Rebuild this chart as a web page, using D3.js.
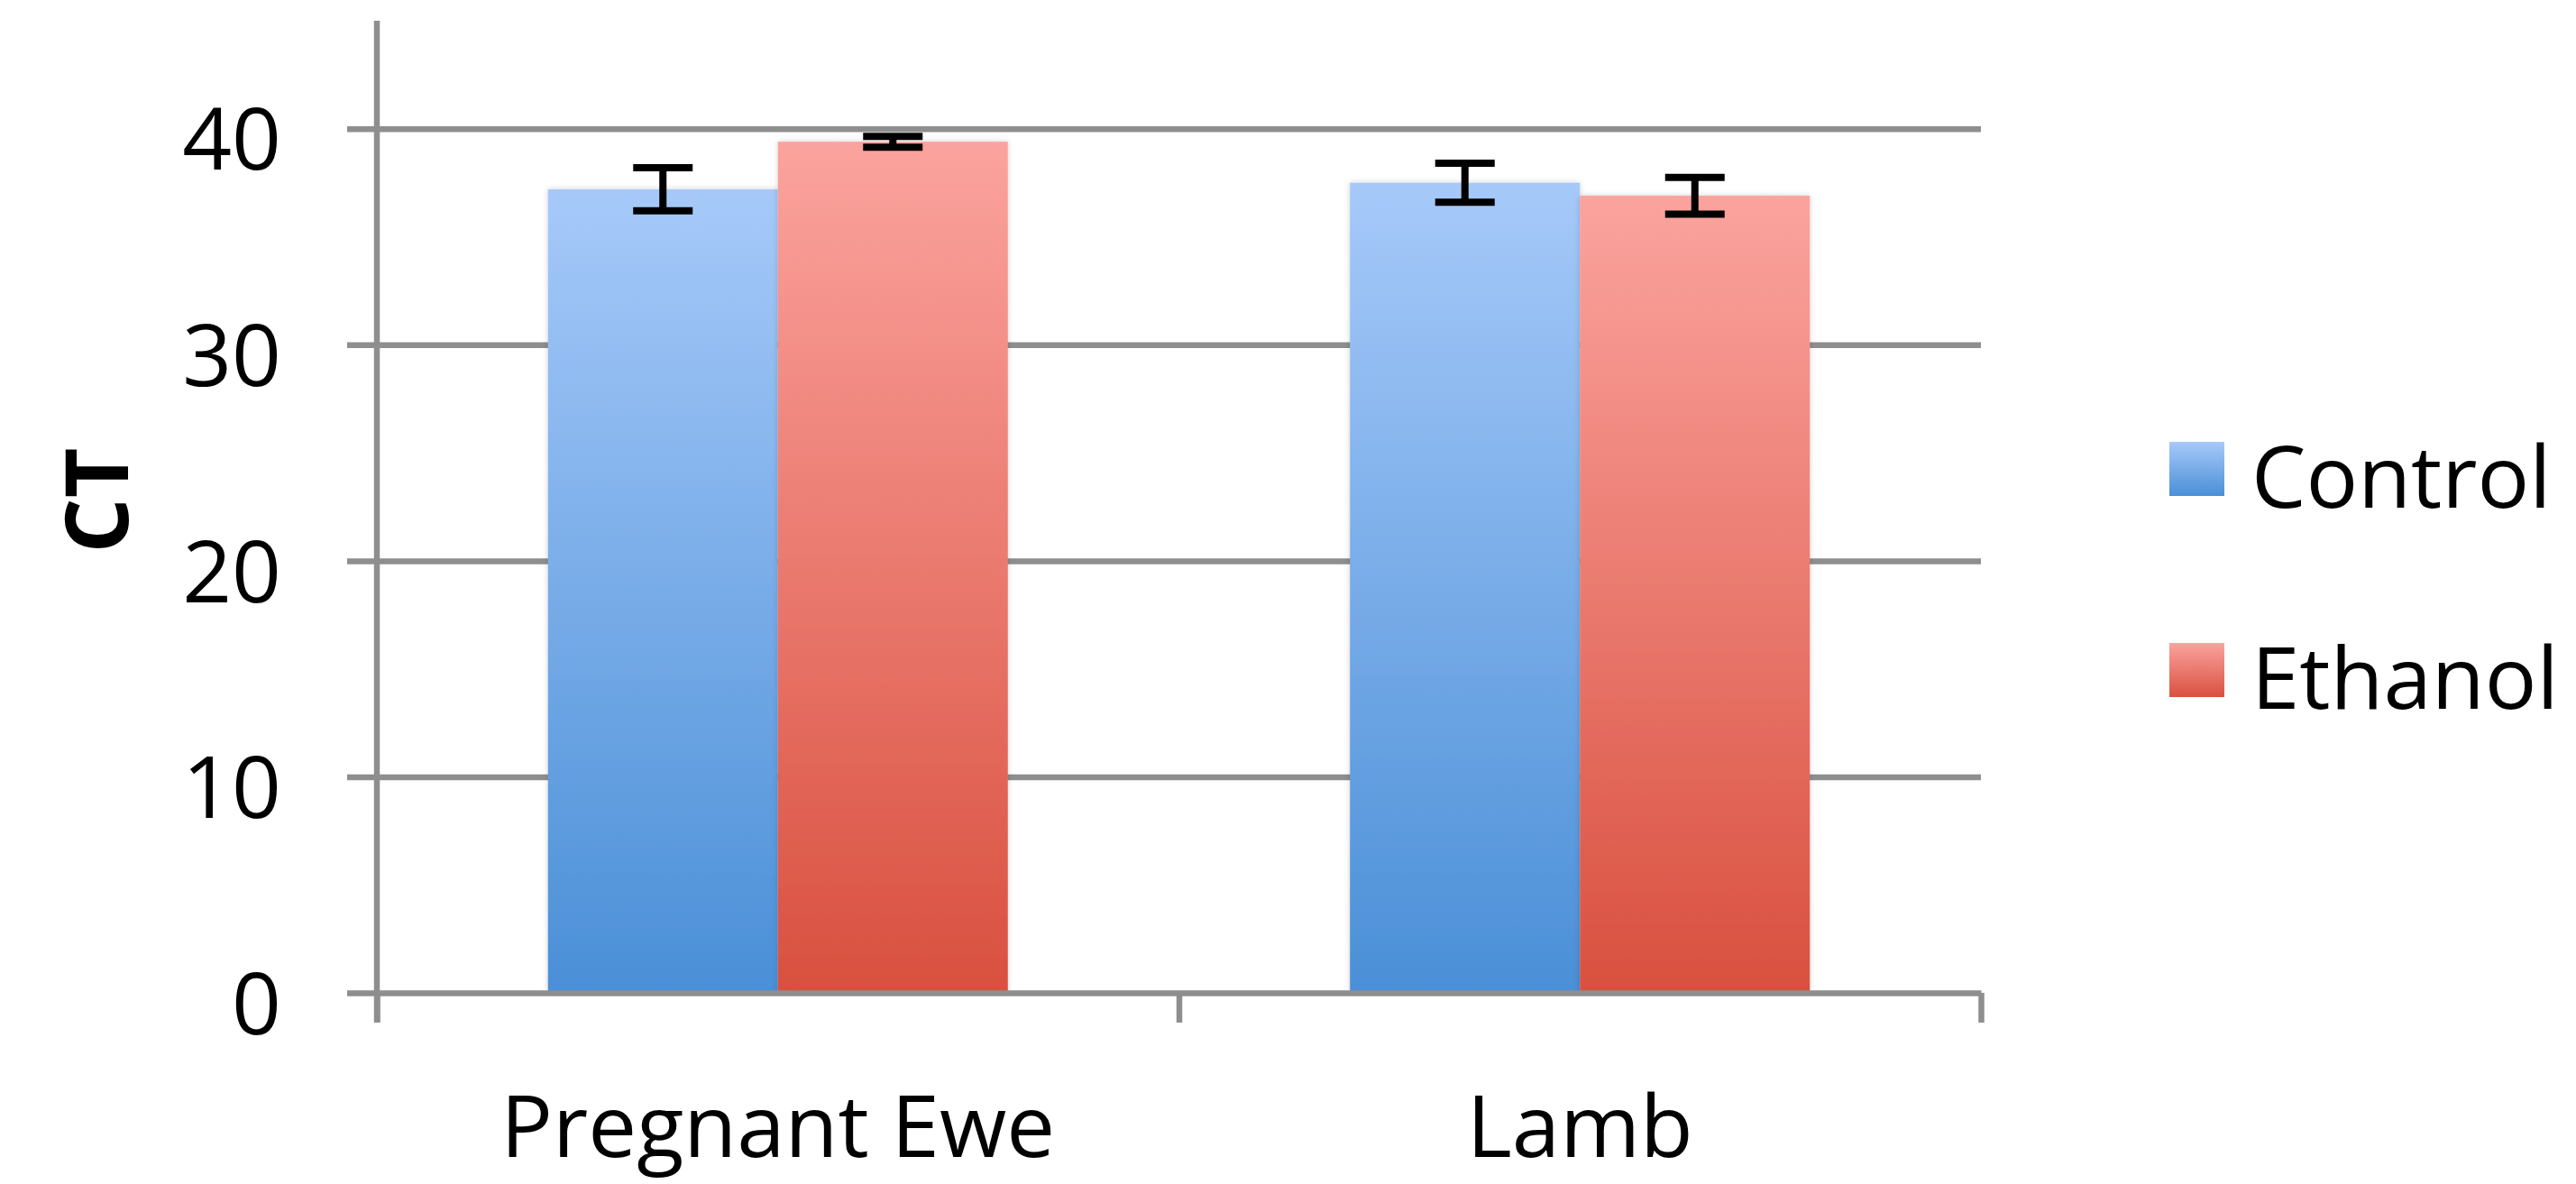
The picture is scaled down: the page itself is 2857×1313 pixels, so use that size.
<!DOCTYPE html>
<html>
<head>
<meta charset="utf-8">
<script src="https://cdn.jsdelivr.net/npm/d3@7"></script>
<style>
  body { margin: 0; background: #fff; }
  .chart text { font-family: "Open Sans", sans-serif; fill: #000; }
  .axisText { font-weight: bold; }
</style>
</head>
<body>
<div class="chart"></div>
<script>
// data
var categories = ["Pregnant Ewe", "Lamb"];
var seriesNames = ["Control", "Ethanol"];
var controlValues = [37.2, 37.5];
var ethanolValues = [39.4, 36.9];
var controlErrors = [1.0, 0.9];
var ethanolErrors = [0.25, 0.85];
var yTicks = [0, 10, 20, 30, 40];

var svgWidth = 2857;
var svgHeight = 1313;

var margin = { top: 23, right: 660, bottom: 212, left: 418 };

var width = svgWidth - margin.left - margin.right;
var height = svgHeight - margin.top - margin.bottom;

var svg = d3.select(".chart")
  .append("svg")
  .attr("width", svgWidth)
  .attr("height", svgHeight);

// gradients for the bars and legend swatches
var defs = svg.append("defs");
var gradColors = {
  Control: ["#a6c9f9", "#4a8fd7"],
  Ethanol: ["#fba39e", "#d9503f"]
};
seriesNames.forEach(function(name) {
  var g = defs.append("linearGradient")
    .attr("id", "grad-" + name)
    .attr("x1", 0).attr("y1", 0).attr("x2", 0).attr("y2", 1);
  g.append("stop").attr("offset", "0%").attr("stop-color", gradColors[name][0]);
  g.append("stop").attr("offset", "100%").attr("stop-color", gradColors[name][1]);
});
defs.append("filter")
  .attr("id", "shadow")
  .attr("x", "-10%").attr("y", "-10%").attr("width", "120%").attr("height", "120%")
  .append("feDropShadow")
  .attr("dx", 0).attr("dy", 0)
  .attr("stdDeviation", 3)
  .attr("flood-color", "#000")
  .attr("flood-opacity", 0.18);

var chart = svg.append("g")
  .attr("transform", "translate(" + margin.left + "," + margin.top + ")");

var rows = categories.map(function(c, i) {
  return {
    category: c,
    values: [
      { series: "Control", value: controlValues[i], err: controlErrors[i] },
      { series: "Ethanol", value: ethanolValues[i], err: ethanolErrors[i] }
    ]
  };
});

// scales
var x0 = d3.scaleBand()
  .domain(categories)
  .range([0, width]);

var x1 = d3.scaleBand()
  .domain(seriesNames)
  .range([x0.bandwidth() * 0.2133, x0.bandwidth() * 0.7867]);

var yLinearScale = d3.scaleLinear()
  .domain([0, 45])
  .range([height, 0]);

var tickScale = d3.scaleLinear()
  .domain([0, categories.length])
  .range([0, width]);

// gridlines
chart.append("g")
  .attr("class", "grid")
  .call(d3.axisLeft(yLinearScale).tickValues(yTicks.slice(1)).tickSize(-width).tickFormat(""))
  .call(function(g) { g.select(".domain").remove(); })
  .selectAll("line")
  .attr("stroke", "#8e8e8e")
  .attr("stroke-width", 6.5);

// bars
var groups = chart.selectAll(".group")
  .data(rows)
  .enter().append("g")
  .attr("class", "group")
  .attr("transform", function(d) { return "translate(" + x0(d.category) + ",0)"; });

groups.selectAll("rect")
  .data(function(d) { return d.values; })
  .enter().append("rect")
  .attr("x", function(d) { return x1(d.series); })
  .attr("y", function(d) { return yLinearScale(d.value); })
  .attr("width", x1.bandwidth())
  .attr("height", function(d) { return height - yLinearScale(d.value); })
  .attr("fill", function(d) { return "url(#grad-" + d.series + ")"; })
  .attr("filter", "url(#shadow)");

// error bars
var capHalf = 33;
var errs = groups.selectAll(".err")
  .data(function(d) { return d.values; })
  .enter().append("g")
  .attr("class", "err")
  .attr("stroke", "#000")
  .attr("stroke-width", 8);

errs.append("line")
  .attr("x1", function(d) { return x1(d.series) + x1.bandwidth() / 2; })
  .attr("x2", function(d) { return x1(d.series) + x1.bandwidth() / 2; })
  .attr("y1", function(d) { return yLinearScale(d.value + d.err); })
  .attr("y2", function(d) { return yLinearScale(d.value - d.err); });

errs.selectAll(".cap")
  .data(function(d) { return [d.value + d.err, d.value - d.err].map(function(v) { return { v: v, d: d }; }); })
  .enter().append("line")
  .attr("x1", function(c) { return x1(c.d.series) + x1.bandwidth() / 2 - capHalf; })
  .attr("x2", function(c) { return x1(c.d.series) + x1.bandwidth() / 2 + capHalf; })
  .attr("y1", function(c) { return yLinearScale(c.v); })
  .attr("y2", function(c) { return yLinearScale(c.v); });

// y axis
var leftAxis = d3.axisLeft(yLinearScale)
  .tickValues(yTicks)
  .tickSize(33)
  .tickPadding(73)
  .tickFormat(d3.format("d"));

var yAxis = chart.append("g").call(leftAxis);
yAxis.select(".domain").attr("d", "M0," + (height + 33) + "V0");
yAxis.selectAll("line, .domain").attr("stroke", "#8e8e8e").attr("stroke-width", 6.5);
yAxis.selectAll("text")
  .attr("dy", "0.47em")
  .style("font-size", "96px");

// x axis
var bottomAxis = d3.axisBottom(tickScale)
  .tickValues(d3.range(categories.length + 1))
  .tickSize(33)
  .tickSizeOuter(0)
  .tickFormat("");

var xAxis = chart.append("g")
  .attr("transform", "translate(0," + height + ")")
  .call(bottomAxis);
xAxis.selectAll("line, .domain").attr("stroke", "#8e8e8e").attr("stroke-width", 6.5);

chart.selectAll(".catLabel")
  .data(categories)
  .enter().append("text")
  .attr("class", "catLabel")
  .attr("x", function(d) { return x0(d) + x0.bandwidth() / 2; })
  .attr("y", height + 182)
  .attr("text-anchor", "middle")
  .style("font-size", "96px")
  .text(function(d) { return d; });

// y axis title
svg.append("text")
  .attr("transform", "translate(142,555) rotate(-90)")
  .attr("text-anchor", "middle")
  .attr("class", "axisText")
  .style("font-size", "96px")
  .text("CT");

// legend
var legend = svg.selectAll(".legend")
  .data(seriesNames)
  .enter().append("g")
  .attr("class", "legend")
  .attr("transform", function(d, i) { return "translate(2406," + (490 + i * 223) + ")"; });

legend.append("rect")
  .attr("width", 61)
  .attr("height", 60)
  .attr("fill", function(d) { return "url(#grad-" + d + ")"; });

legend.append("text")
  .attr("x", 91)
  .attr("y", 73)
  .style("font-size", "96px")
  .text(function(d) { return d; });
</script>
</body>
</html>
